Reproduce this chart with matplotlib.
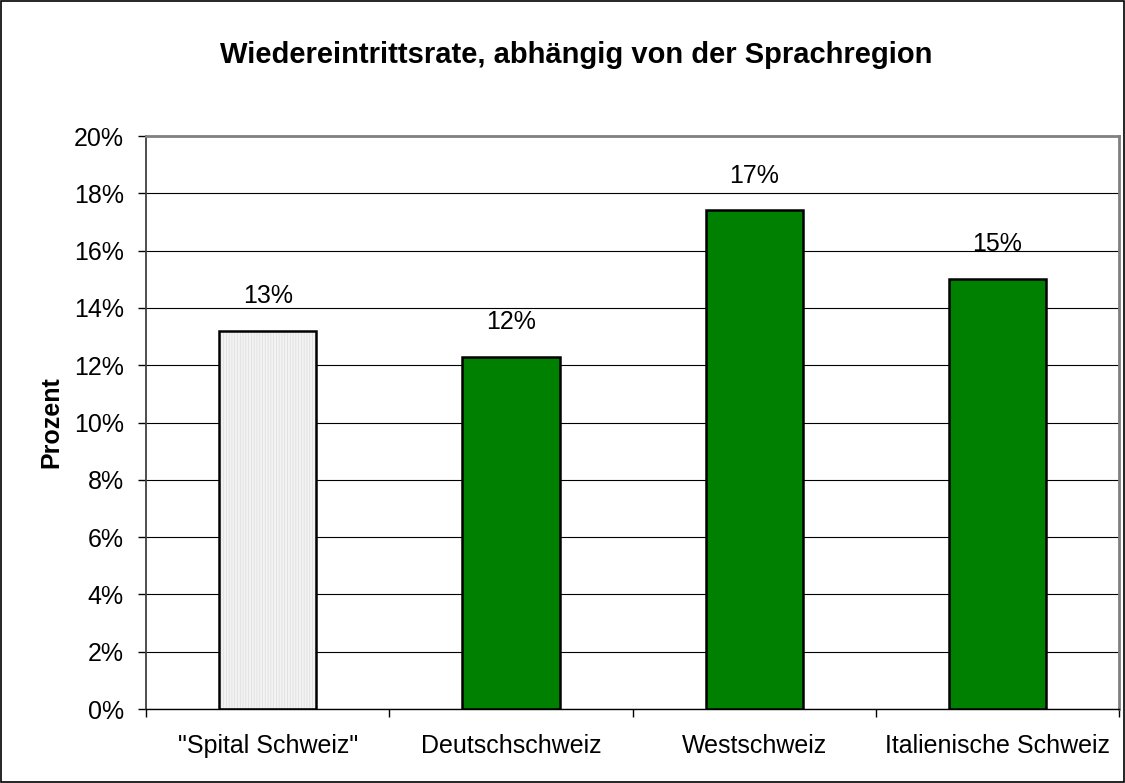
import numpy as np
import matplotlib
matplotlib.use('Agg')
import matplotlib.pyplot as plt
from matplotlib.patches import Rectangle

plt.rcParams['font.family'] = ['Liberation Sans', 'DejaVu Sans']
plt.rcParams['hatch.linewidth'] = 0.5

# data
categories = ['"Spital Schweiz"', 'Deutschschweiz', 'Westschweiz', 'Italienische Schweiz']
values = [13.2, 12.3, 17.4, 15.0]
labels = ['13%', '12%', '17%', '15%']
colors = ['none', '#008000', '#008000', '#008000']

fig = plt.figure(figsize=(11.25, 7.83), dpi=100)
fig.patches.append(Rectangle((0.0005, 0.0007), 0.999, 0.998, transform=fig.transFigure,
                             fill=False, edgecolor='black', linewidth=1.2))
ax = fig.add_axes([0.1298, 0.0945, 0.8649, 0.7318])

x = np.arange(len(categories))
# light striped fill for the first bar, outline drawn on top
ax.bar(x[0], values[0], width=0.4, color='#f3f3f3', edgecolor='#dcdcdc', hatch='||||||',
       linewidth=0, zorder=2.5)
bars = ax.bar(x, values, width=0.4, color=colors, edgecolor='black', linewidth=1.8, zorder=3)

for xi, v, lab in zip(x, values, labels):
    ax.text(xi, v + 0.97, lab, ha='center', va='baseline', fontsize=18)

ax.set_xlim(-0.5, len(categories) - 0.5)
ax.set_ylim(0, 20)
ax.set_yticks(np.arange(0, 21, 2))
ax.set_yticklabels([f'{t}%' for t in range(0, 21, 2)], fontsize=18)
ax.yaxis.grid(True, color='black', linewidth=0.8, zorder=0)
ax.set_axisbelow(True)

ax.set_xticks(x)
ax.set_xticklabels(categories, fontsize=18)
ax.tick_params(axis='x', length=0, pad=18)
ax.set_xticks(np.arange(-0.5, len(categories)), minor=True)
ax.tick_params(axis='x', which='minor', length=6, width=1)
ax.tick_params(axis='y', length=6, width=1, pad=10)

for s in ['top', 'right']:
    ax.spines[s].set_color('#808080')
    ax.spines[s].set_linewidth(2)
ax.spines['left'].set_color('#404040')
ax.spines['left'].set_linewidth(1.3)
ax.spines['bottom'].set_color('black')
ax.spines['bottom'].set_linewidth(1)

fig.text(0.0453, 0.461, 'Prozent', rotation=90, ha='center', va='center',
         fontsize=18, fontweight='bold')
fig.text(0.512, 0.93, 'Wiedereintrittsrate, abhängig von der Sprachregion', ha='center', va='center',
         fontsize=21, fontweight='bold')

fig.savefig('out.png', dpi=100)
